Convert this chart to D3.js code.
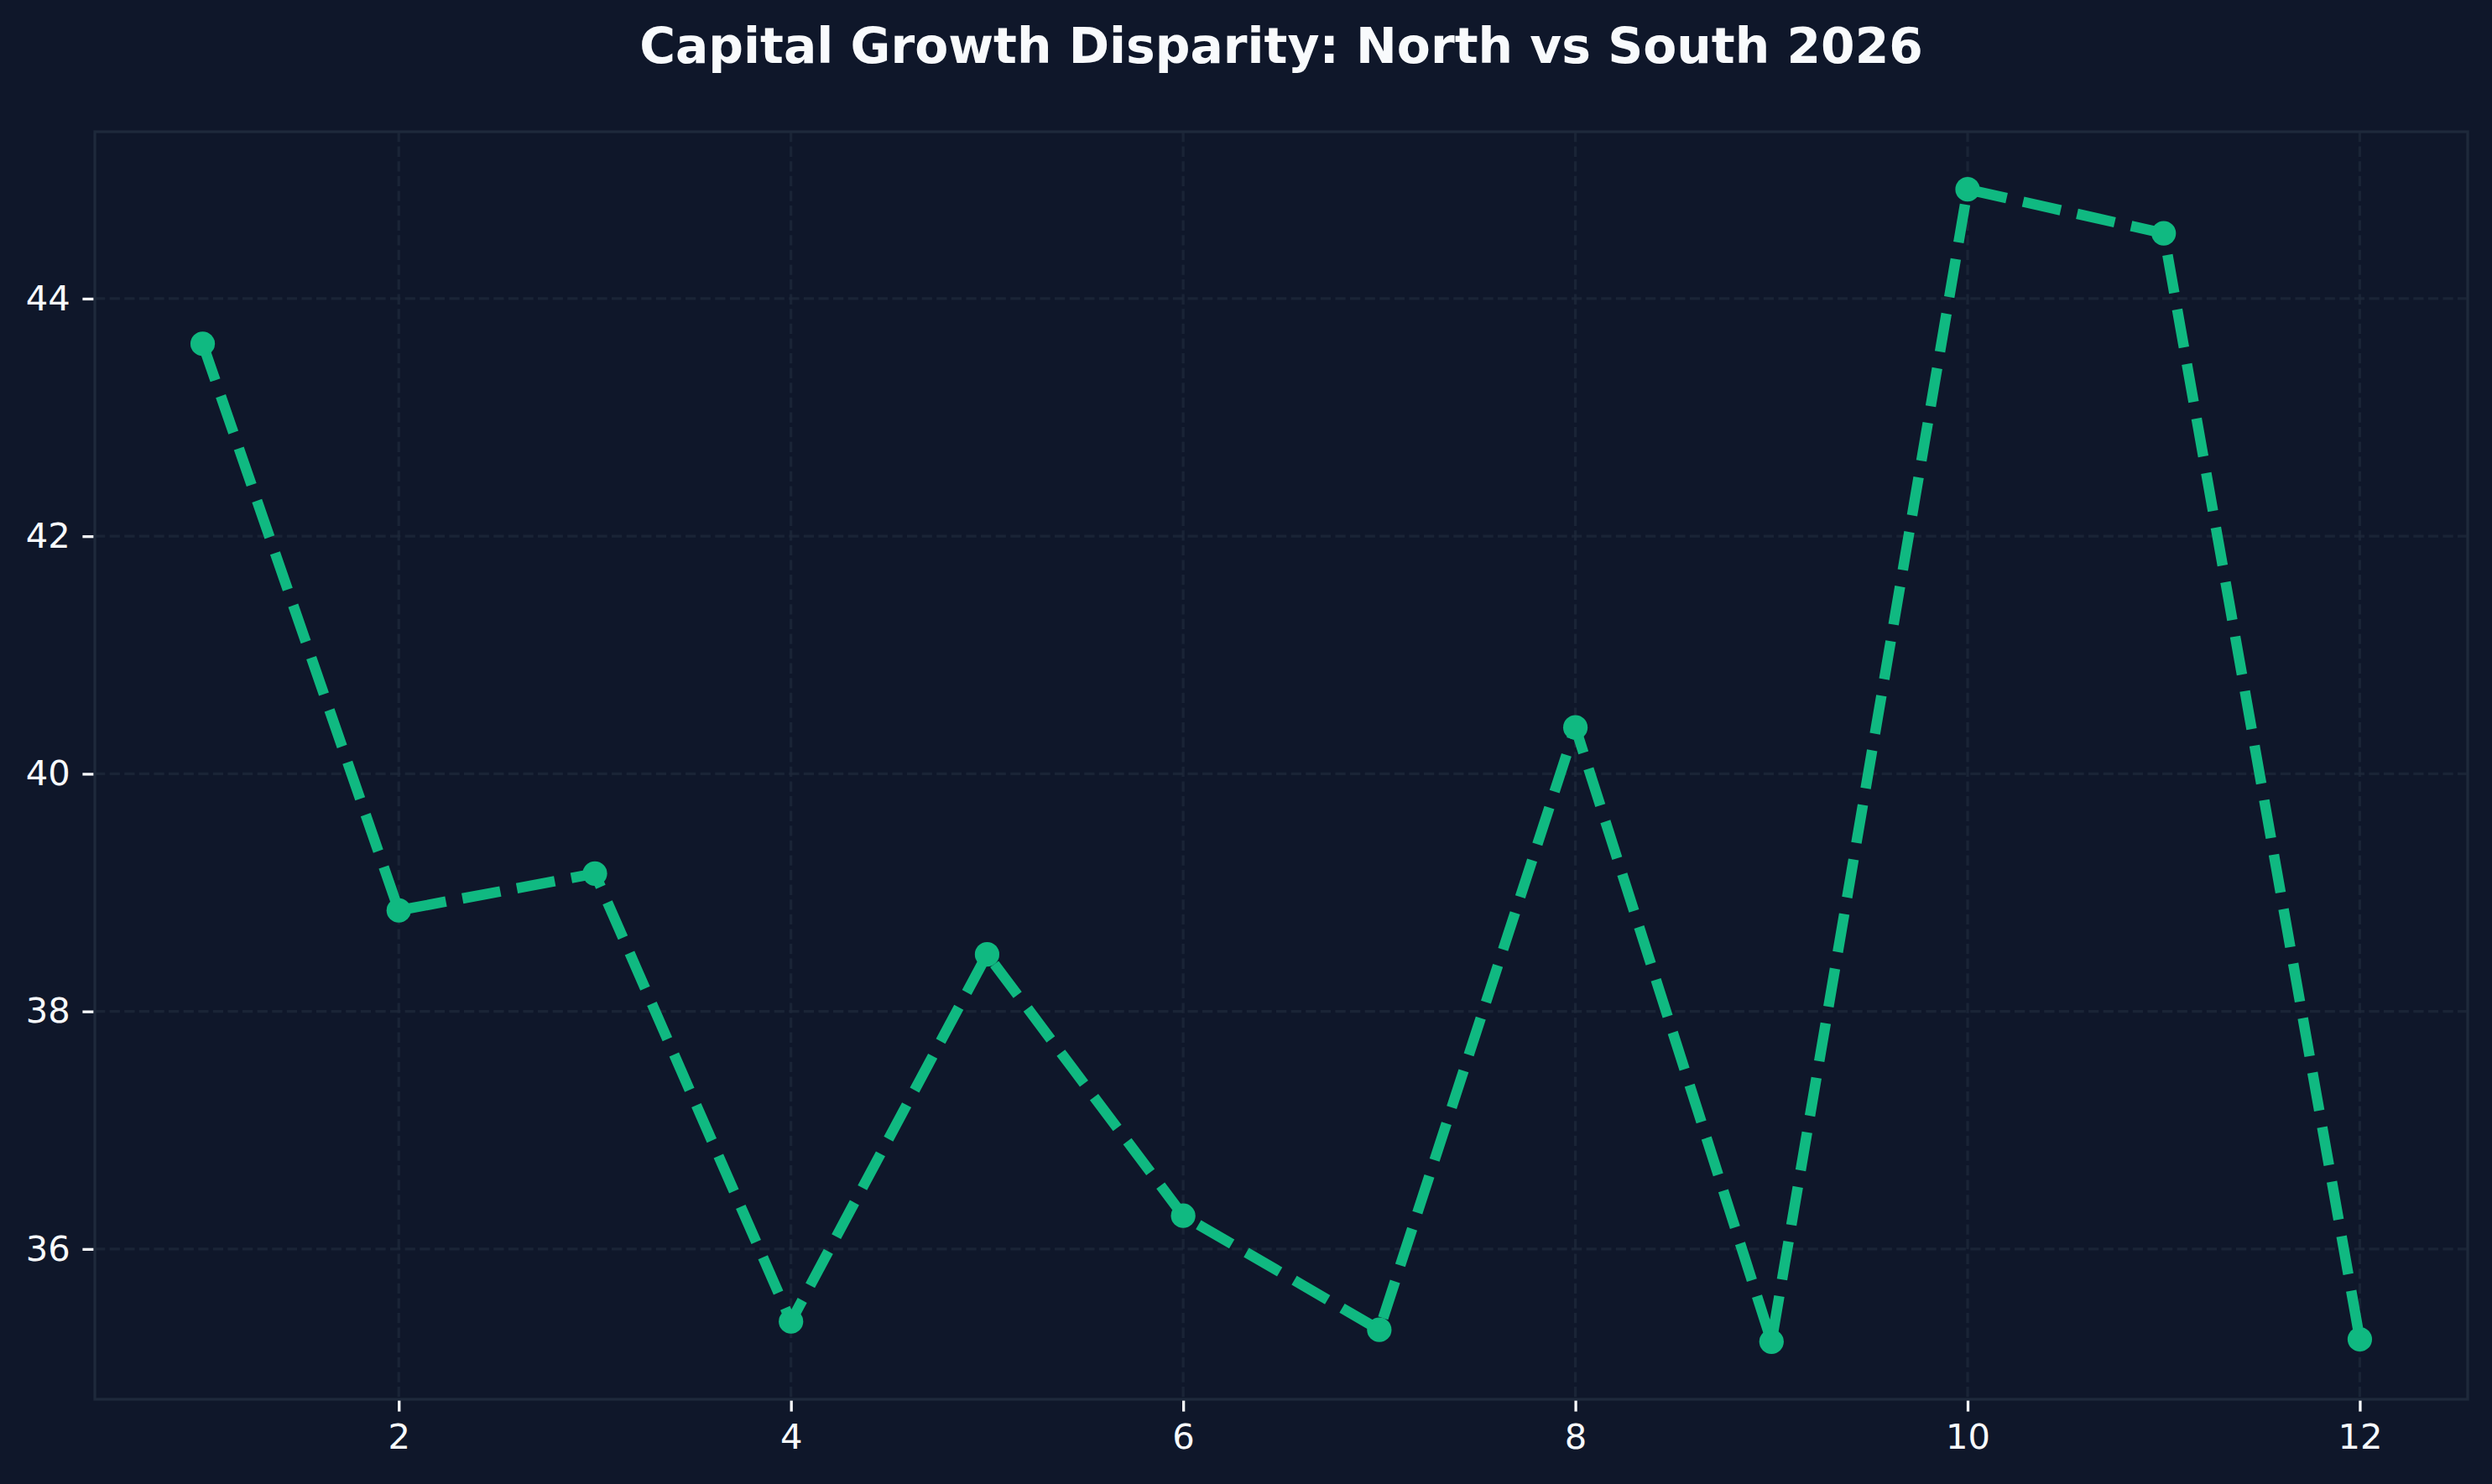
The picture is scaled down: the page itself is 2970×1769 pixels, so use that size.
<!DOCTYPE html>
<html>
<head>
<meta charset="utf-8">
<script src="https://cdn.jsdelivr.net/npm/d3@7"></script>
<style>
  html, body { margin: 0; padding: 0; background: #0f172a; }
  svg { display: block; }
</style>
</head>
<body>
<script>
const months = [1, 2, 3, 4, 5, 6, 7, 8, 9, 10, 11, 12];
const values = [43.62, 38.85, 39.16, 35.39, 38.48, 36.28, 35.32, 40.39, 35.22, 44.92, 44.55, 35.24];
const xTicks = [2, 4, 6, 8, 10, 12];
const yTicks = [36, 38, 40, 42, 44];
const titleText = "Capital Growth Disparity: North vs South 2026";

const W = 2970, H = 1769;
const margin = { left: 113, right: W - 2941, top: 157, bottom: H - 1668 };
const bg = "#0f172a", gridColor = "#1e293b", lineColor = "#10b981", textColor = "#f8fafc";

const svg = d3.select("body").append("svg").attr("width", W).attr("height", H);
svg.append("rect").attr("width", W).attr("height", H).attr("fill", bg);

const xMin = d3.min(months), xMax = d3.max(months);
const yMin = d3.min(values), yMax = d3.max(values);
const xPad = (xMax - xMin) * 0.05, yPad = (yMax - yMin) * 0.05;

const x = d3.scaleLinear().domain([xMin - xPad, xMax + xPad]).range([margin.left, W - margin.right]);
const y = d3.scaleLinear().domain([yMin - yPad, yMax + yPad]).range([H - margin.bottom, margin.top]);

// grid
const grid = svg.append("g");
grid.selectAll("line.gx").data(xTicks).join("line")
  .attr("x1", d => x(d)).attr("x2", d => x(d))
  .attr("y1", margin.top).attr("y2", H - margin.bottom)
  .attr("stroke", gridColor).attr("stroke-width", 3.3).attr("stroke-dasharray", "12.3,5.3").attr("opacity", 0.75);
grid.selectAll("line.gy").data(yTicks).join("line")
  .attr("y1", d => y(d)).attr("y2", d => y(d))
  .attr("x1", margin.left).attr("x2", W - margin.right)
  .attr("stroke", gridColor).attr("stroke-width", 3.3).attr("stroke-dasharray", "12.3,5.3").attr("opacity", 0.75);

// axes
const fontFam = "'DejaVu Sans', sans-serif";
const xAxis = svg.append("g").attr("transform", `translate(0,${H - margin.bottom})`)
  .call(d3.axisBottom(x).tickValues(xTicks).tickSize(14.6).tickPadding(14.6).tickFormat(d3.format("d")));
const yAxis = svg.append("g").attr("transform", `translate(${margin.left},0)`)
  .call(d3.axisLeft(y).tickValues(yTicks).tickSize(14.6).tickPadding(14.6).tickFormat(d3.format("d")));
[xAxis, yAxis].forEach(a => {
  a.select(".domain").remove();
  a.selectAll(".tick line").attr("stroke", textColor).attr("stroke-width", 3.3);
  a.selectAll(".tick text").attr("fill", textColor).style("font-family", fontFam).style("font-size", "41.7px");
});

// spines
svg.append("rect")
  .attr("x", margin.left).attr("y", margin.top)
  .attr("width", W - margin.right - margin.left).attr("height", H - margin.bottom - margin.top)
  .attr("fill", "none").attr("stroke", gridColor).attr("stroke-width", 3.3);

// line
const data = months.map((m, i) => ({ m, v: values[i] }));
const line = d3.line().x(d => x(d.m)).y(d => y(d.v));
svg.append("path").datum(data).attr("d", line)
  .attr("fill", "none").attr("stroke", lineColor).attr("stroke-width", 12.5)
  .attr("stroke-dasharray", "46,20").attr("stroke-linejoin", "round");
svg.append("g").selectAll("circle").data(data).join("circle")
  .attr("cx", d => x(d.m)).attr("cy", d => y(d.v)).attr("r", 14.6).attr("fill", lineColor);

// title
svg.append("text").attr("x", (margin.left + W - margin.right) / 2).attr("y", 75)
  .attr("text-anchor", "middle").attr("fill", textColor)
  .style("font-family", fontFam).style("font-weight", "bold").style("font-size", "58.3px")
  .text(titleText);
</script>
</body>
</html>
